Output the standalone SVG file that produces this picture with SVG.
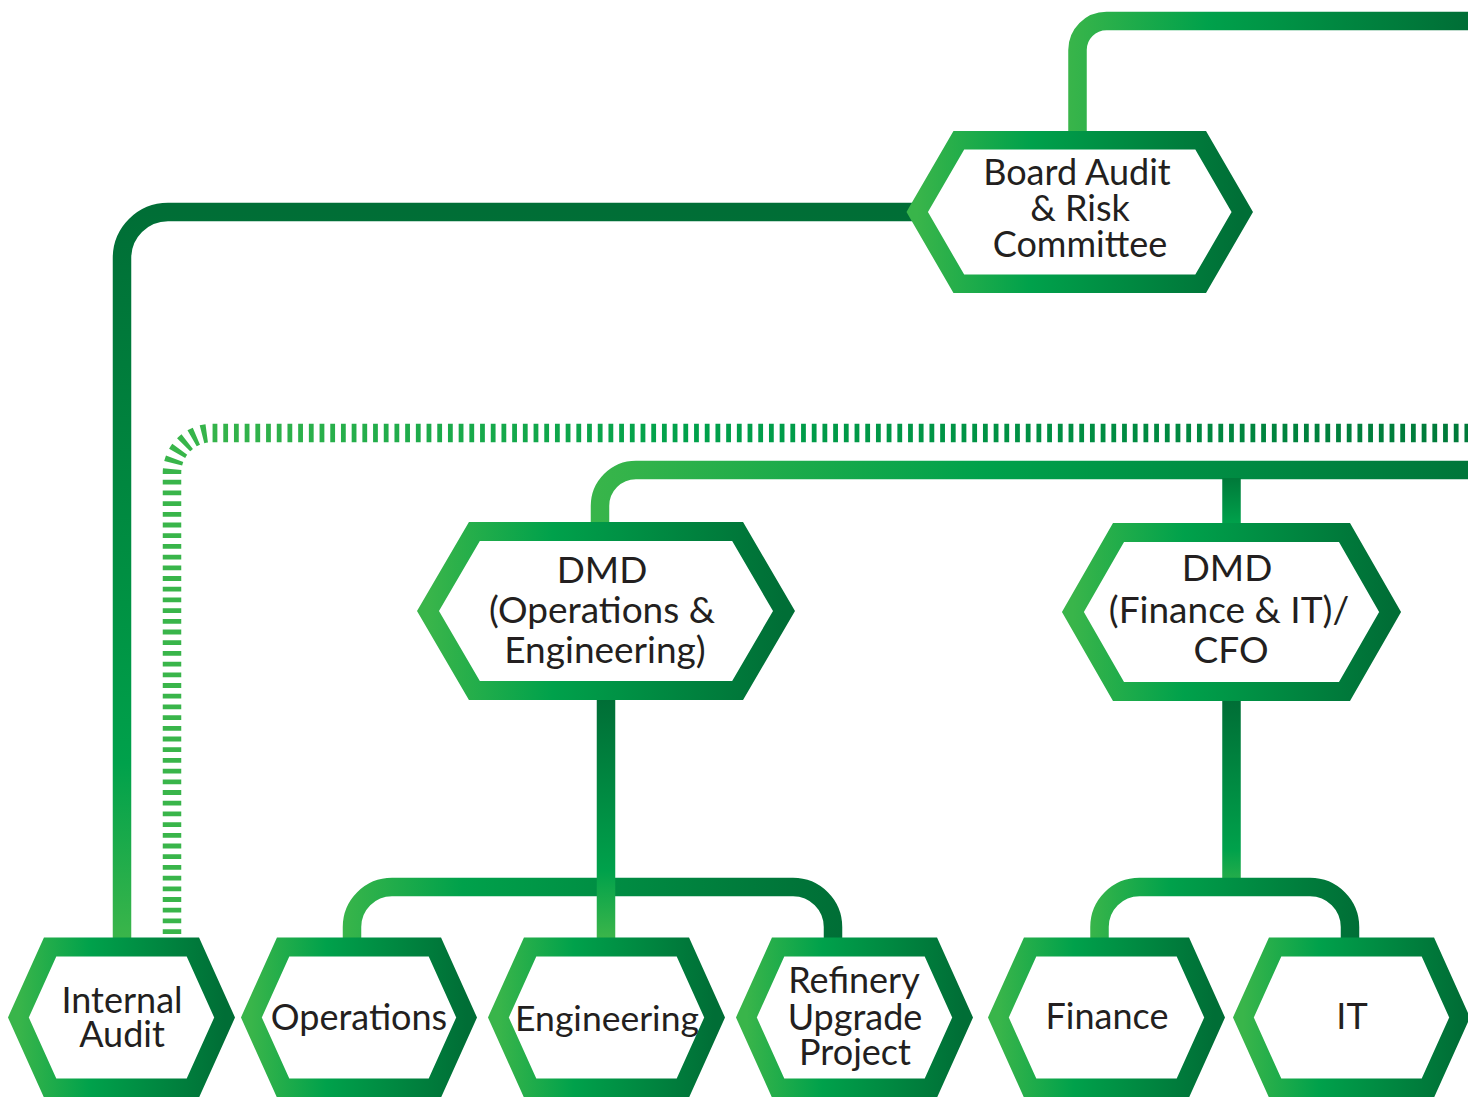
<svg xmlns="http://www.w3.org/2000/svg" width="1468" height="1097" viewBox="0 0 1468 1097">
<defs>
<linearGradient id="gHex" x1="0" y1="0" x2="1" y2="0">
<stop offset="0" stop-color="#39b54a"/><stop offset="0.35" stop-color="#00a14b"/><stop offset="1" stop-color="#006e36"/>
</linearGradient>
<linearGradient id="gTop" gradientUnits="userSpaceOnUse" x1="1068" y1="0" x2="1468" y2="0">
<stop offset="0" stop-color="#39b54a"/><stop offset="0.35" stop-color="#00a14b"/><stop offset="1" stop-color="#006e36"/>
</linearGradient>
<linearGradient id="gIA" gradientUnits="userSpaceOnUse" x1="0" y1="212" x2="0" y2="937">
<stop offset="0" stop-color="#006e36"/><stop offset="0.54" stop-color="#009243"/><stop offset="0.76" stop-color="#00a14b"/><stop offset="1" stop-color="#3ab54a"/>
</linearGradient>
<linearGradient id="gDash" gradientUnits="userSpaceOnUse" x1="172" y1="0" x2="1468" y2="0">
<stop offset="0" stop-color="#39b54a"/><stop offset="0.4" stop-color="#00a14b"/><stop offset="1" stop-color="#007a3a"/>
</linearGradient>
<linearGradient id="gMid" gradientUnits="userSpaceOnUse" x1="590" y1="0" x2="1468" y2="0">
<stop offset="0" stop-color="#39b54a"/><stop offset="0.45" stop-color="#00a14b"/><stop offset="1" stop-color="#00763a"/>
</linearGradient>
<linearGradient id="gStub" gradientUnits="userSpaceOnUse" x1="0" y1="479" x2="0" y2="523">
<stop offset="0" stop-color="#007a3a"/><stop offset="1" stop-color="#00a14b"/>
</linearGradient>
<linearGradient id="gOpsV" gradientUnits="userSpaceOnUse" x1="0" y1="700" x2="0" y2="937">
<stop offset="0" stop-color="#006e36"/><stop offset="0.72" stop-color="#00a14b"/><stop offset="1" stop-color="#3ab54a"/>
</linearGradient>
<linearGradient id="gOpsH" gradientUnits="userSpaceOnUse" x1="342" y1="0" x2="843" y2="0">
<stop offset="0" stop-color="#39b54a"/><stop offset="0.24" stop-color="#00a14b"/><stop offset="1" stop-color="#006e36"/>
</linearGradient>
<linearGradient id="gFinV" gradientUnits="userSpaceOnUse" x1="0" y1="701" x2="0" y2="887">
<stop offset="0" stop-color="#006e36"/><stop offset="0.8" stop-color="#00a14b"/><stop offset="1" stop-color="#2fb04a"/>
</linearGradient>
<linearGradient id="gFinH" gradientUnits="userSpaceOnUse" x1="1090" y1="0" x2="1359" y2="0">
<stop offset="0" stop-color="#39b54a"/><stop offset="0.3" stop-color="#00a14b"/><stop offset="1" stop-color="#006e36"/>
</linearGradient>
<style>
.hex{fill:#ffffff;stroke:url(#gHex);stroke-width:19;stroke-linejoin:miter}
.ln{fill:none;stroke-width:18.5}
.lbl{font-family:Lato,"Liberation Sans",sans-serif;font-size:36px;fill:#231f20;text-anchor:middle}
.big{font-size:37px}
</style>
</defs>
<rect width="1468" height="1097" fill="#ffffff"/>
<g id="connectors">
<path class="ln" stroke="url(#gTop)" d="M1077.5,140 V50 A29,29 0 0 1 1106.5,21 H1468"/>
<path class="ln" stroke="url(#gIA)" d="M930,212 H168 A46,46 0 0 0 122,258 V945"/>
<path class="ln" stroke="url(#gDash)" stroke-dasharray="4.8 5.9" d="M172,934 V473 A40,40 0 0 1 212,433 H1468"/>
<path class="ln" stroke="url(#gMid)" d="M600,530 V506 A36,36 0 0 1 636,470 H1468"/>
<path class="ln" stroke="url(#gStub)" d="M1231.5,478 V530"/>
<path class="ln" stroke="url(#gOpsH)" d="M352,945 V927 A40,40 0 0 1 392,887 H793 A40,40 0 0 1 833,927 V945"/>
<path class="ln" stroke="url(#gOpsV)" d="M606,695 V945"/>
<path class="ln" stroke="url(#gFinV)" d="M1231.5,695 V880"/>
<path class="ln" stroke="url(#gFinH)" d="M1099.5,945 V927 A40,40 0 0 1 1139.5,887 H1310 A40,40 0 0 1 1350,927 V945"/>
</g>
<g id="board-audit">
<polygon class="hex" style="stroke-width:18.5" points="917.2,212 958.8,140.25 1200.7,140.25 1242.3,212 1200.7,283.75 958.8,283.75"/>
<text class="lbl" x="1077" y="185">Board Audit</text>
<text class="lbl" x="1080" y="221">&amp; Risk</text>
<text class="lbl" x="1080" y="257">Committee</text>
</g>
<g id="dmd-ops">
<polygon class="hex" points="428,611 474.4,531.5 737.6,531.5 784,611 737.6,690.5 474.4,690.5"/>
<text class="lbl big" x="602" y="583">DMD</text>
<text class="lbl big" x="602" y="623">(Operations &amp;</text>
<text class="lbl big" x="605" y="663">Engineering)</text>
</g>
<g id="dmd-finance">
<polygon class="hex" points="1072.9,612 1118.5,532.5 1344.5,532.5 1390.1,612 1344.5,691.5 1118.5,691.5"/>
<text class="lbl big" x="1227" y="581">DMD</text>
<text class="lbl big" x="1229" y="623">(Finance &amp; IT)/</text>
<text class="lbl big" x="1231" y="663">CFO</text>
</g>
<g id="internal-audit">
<polygon class="hex" points="18.4,1017.5 50.1,947 192.9,947 224.6,1017.5 192.9,1088 50.1,1088"/>
<text class="lbl" x="122" y="1013">Internal</text>
<text class="lbl" x="122" y="1047">Audit</text>
</g>
<g id="operations">
<polygon class="hex" points="251.4,1017.5 283.1,947 434.9,947 466.6,1017.5 434.9,1088 283.1,1088"/>
<text class="lbl" x="359" y="1030">Operations</text>
</g>
<g id="engineering">
<polygon class="hex" points="498.4,1017.5 530.1,947 682.9,947 714.6,1017.5 682.9,1088 530.1,1088"/>
<text class="lbl" x="607" y="1031" style="font-size:35.5px">Engineering</text>
</g>
<g id="refinery">
<polygon class="hex" points="746.4,1017.5 778.1,947 930.9,947 962.6,1017.5 930.9,1088 778.1,1088"/>
<text class="lbl" x="854" y="993">Refinery</text>
<text class="lbl" x="855" y="1030">Upgrade</text>
<text class="lbl" x="855" y="1065">Project</text>
</g>
<g id="finance">
<polygon class="hex" points="998.4,1017.5 1030.1,947 1182.9,947 1214.6,1017.5 1182.9,1088 1030.1,1088"/>
<text class="lbl" x="1107" y="1029">Finance</text>
</g>
<g id="it">
<polygon class="hex" points="1243.4,1017.5 1275.1,947 1427.9,947 1459.6,1017.5 1427.9,1088 1275.1,1088"/>
<text class="lbl" x="1352" y="1029">IT</text>
</g>
</svg>
